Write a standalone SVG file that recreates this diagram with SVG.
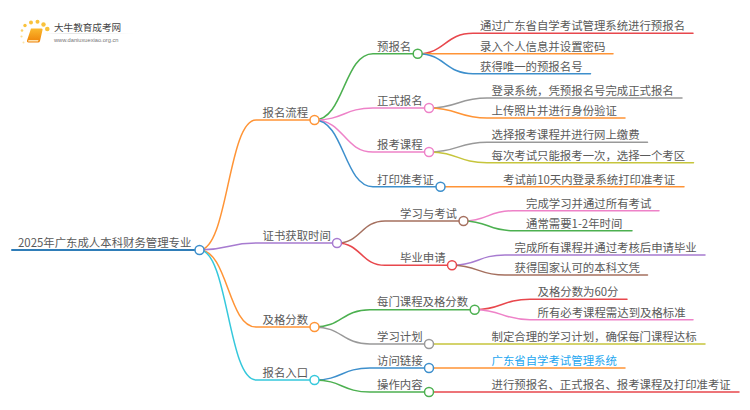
<svg xmlns="http://www.w3.org/2000/svg" width="750" height="410" viewBox="0 0 750 410">
<style>
text{font-family:"Noto Sans CJK SC","Noto Sans",sans-serif;font-size:11.4px;fill:#5a5a5a}
#connectors path{fill:none;stroke-width:1.5;stroke-linecap:round}
circle{fill:#fff;stroke-width:1.5}
.dot{stroke:none;fill:#f9c23c}
.gn{stroke:#4cb050}.pk{stroke:#ee82c8}.bl{stroke:#3d8fcc}.or{stroke:#ff9436}.rd{stroke:#e8474c}.gy{stroke:#999}.ol{stroke:#c6c53c}.pu{stroke:#a77bd0}.br{stroke:#a5705f}.cy{stroke:#35c8dc}
</style>
<defs>
<linearGradient id="book" x1="0" y1="0" x2="0" y2="1"><stop offset="0" stop-color="#fbb92e"/><stop offset="1" stop-color="#ee8208"/></linearGradient>
<linearGradient id="rule" x1="0" y1="0" x2="1" y2="0"><stop offset="0" stop-color="#fff"/><stop offset=".3" stop-color="#e4e4e4"/><stop offset="1" stop-color="#fff"/></linearGradient>
</defs>
<g id="logo">
<circle class="dot" cx="22" cy="30.500" r="1.300" style="fill:#fad26a"/><circle class="dot" cx="25" cy="25.500" r="1.700"/><circle class="dot" cx="31" cy="22.500" r="2"/><circle class="dot" cx="37.500" cy="21.700" r="2"/><circle class="dot" cx="43.500" cy="24.500" r="2.200"/><circle class="dot" cx="47.300" cy="29" r="2.300"/><circle class="dot" cx="21.500" cy="36.500" r="1.100" style="fill:#fbdc90"/><circle class="dot" cx="23.500" cy="42.500" r="1" style="fill:#fbe3a8"/>
<path d="M31 28.500h10.500q1.500 0 1 1.500l-2.500 11q-.4 1.500-2 1.500H28.500q-2 0-1.500-2z" fill="url(#book)"/>
<path d="M28.500 40h10l-.5 1.500H28z" fill="#fde2b0"/>
<rect x="44" y="33" width="90" height="1" fill="url(#rule)"/>
<text x="54" y="31" style="font-size:9.600px;fill:#444">大牛教育成考网</text>
<text x="54" y="41.500" style="font-size:5.700px;fill:#777;font-family:'Liberation Sans',sans-serif">www.daniuxuexiao.org.cn</text>
</g>
<g id="connectors">
<path d="M12 250H199.500" style="stroke:#2f7db8;stroke-width:2"/>
<path class="or" d="M199.500 250C228 250 228 120 256 120H314.500"/>
<path class="pu" d="M199.500 250C228 250 228 243 256 243H337"/>
<path class="or" d="M199.500 250C228 250 228 327 256 327H314.500"/>
<path class="cy" d="M199.500 250C228 250 228 380 256 380H314.500"/>
<path class="gn" d="M314.500 120C344 120 344 53.700 373 53.700H418"/>
<path class="pk" d="M314.500 120C344 120 344 108 373 108H429"/>
<path class="pk" d="M314.500 120C344 120 344 152 373 152H429"/>
<path class="bl" d="M314.500 120C344 120 344 186.700 373 186.700H440"/>
<path class="br" d="M337 243C361 243 361 221 385 221H463.500"/>
<path class="rd" d="M337 243C361 243 361 265.300 385 265.300H452"/>
<path class="gn" d="M314.500 327C342 327 342 309.700 370 309.700H475"/>
<path class="gy" d="M314.500 327C342 327 342 344 370 344H429"/>
<path class="bl" d="M314.500 380C342 380 342 368 370 368H429"/>
<path class="gn" d="M314.500 380C342 380 342 392 370 392H429"/>
<path class="rd" d="M418 53.700C445 53.700 445 33.300 473 33.300H693"/>
<path class="or" d="M418 53.700H613"/>
<path class="bl" d="M418 53.700C445 53.700 445 73.700 473 73.700H590.500"/>
<path class="gy" d="M429 108C458 108 458 98 487 98H682"/>
<path class="or" d="M429 108C458 108 458 118 487 118H625"/>
<path class="gy" d="M429 152C458 152 458 142.300 487 142.300H647.500"/>
<path class="ol" d="M429 152C458 152 458 162.700 487 162.700H693.500"/>
<path class="or" d="M440 186.700H684"/>
<path class="pk" d="M463.500 221C488 221 488 210.700 513 210.700H659"/>
<path class="gn" d="M463.500 221C488 221 488 230.700 513 230.700H632"/>
<path class="pu" d="M452 265.300C478 265.300 478 255 505 255H705"/>
<path class="br" d="M452 265.300C478 265.300 478 275 505 275H647.500"/>
<path class="rd" d="M475 309.700C502 309.700 502 299.300 530 299.300H627"/>
<path class="pk" d="M475 309.700C502 309.700 502 319.700 530 319.700H693"/>
<path class="ol" d="M429 344H705"/>
<path class="or" d="M429 368H625"/>
<path class="rd" d="M429 392H739"/>
</g>
<g id="root"><text x="18" y="247">2025年广东成人本科财务管理专业</text><circle class="bl" cx="199.500" cy="250" r="4.500"/></g>
<g id="n1"><text x="262.500" y="117">报名流程</text><circle class="or" cx="314.500" cy="120" r="4.500"/></g>
<g id="n2"><text x="262.500" y="240">证书获取时间</text><circle class="pu" cx="337" cy="243" r="4.500"/></g>
<g id="n3"><text x="262.500" y="324">及格分数</text><circle class="or" cx="314.500" cy="327" r="4.500"/></g>
<g id="n4"><text x="262.500" y="377">报名入口</text><circle class="cy" cx="314.500" cy="380" r="4.500"/></g>
<g id="n11"><text x="377" y="51">预报名</text><circle class="gn" cx="417.700" cy="53.700" r="4.500"/></g>
<g id="n12"><text x="377" y="105">正式报名</text><circle class="pk" cx="429" cy="108" r="4.500"/></g>
<g id="n13"><text x="377" y="149">报考课程</text><circle class="pk" cx="429" cy="152" r="4.500"/></g>
<g id="n14"><text x="377" y="184">打印准考证</text><circle class="bl" cx="440.500" cy="186.700" r="4.500"/></g>
<g id="n21"><text x="400" y="218">学习与考试</text><circle class="br" cx="463.500" cy="221" r="4.500"/></g>
<g id="n22"><text x="400" y="262">毕业申请</text><circle class="rd" cx="452" cy="265.300" r="4.500"/></g>
<g id="n31"><text x="377" y="306">每门课程及格分数</text><circle class="gn" cx="474.700" cy="309.700" r="4.500"/></g>
<g id="n32"><text x="377" y="341">学习计划</text><circle class="gy" cx="429" cy="344" r="4.500"/></g>
<g id="n41"><text x="377" y="365">访问链接</text><circle class="bl" cx="429" cy="368" r="4.500"/></g>
<g id="n42"><text x="377" y="389">操作内容</text><circle class="gn" cx="429" cy="392" r="4.500"/></g>
<g id="leaves">
<text x="480" y="30">通过广东省自学考试管理系统进行预报名</text>
<text x="480" y="51">录入个人信息并设置密码</text>
<text x="480" y="71">获得唯一的预报名号</text>
<text x="491.500" y="95">登录系统，凭预报名号完成正式报名</text>
<text x="491.500" y="115">上传照片并进行身份验证</text>
<text x="491.500" y="139">选择报考课程并进行网上缴费</text>
<text x="491.500" y="160">每次考试只能报考一次，选择一个考区</text>
<text x="503" y="184">考试前10天内登录系统打印准考证</text>
<text x="526" y="208">完成学习并通过所有考试</text>
<text x="526" y="228">通常需要1-2年时间</text>
<text x="514.500" y="252">完成所有课程并通过考核后申请毕业</text>
<text x="514.500" y="272">获得国家认可的本科文凭</text>
<text x="537.500" y="296">及格分数为60分</text>
<text x="537.500" y="317">所有必考课程需达到及格标准</text>
<text x="491.500" y="341">制定合理的学习计划，确保每门课程达标</text>
<text x="491.500" y="365" style="fill:#1ea7f0">广东省自学考试管理系统</text>
<text x="491.500" y="389">进行预报名、正式报名、报考课程及打印准考证</text>
</g>
</svg>
